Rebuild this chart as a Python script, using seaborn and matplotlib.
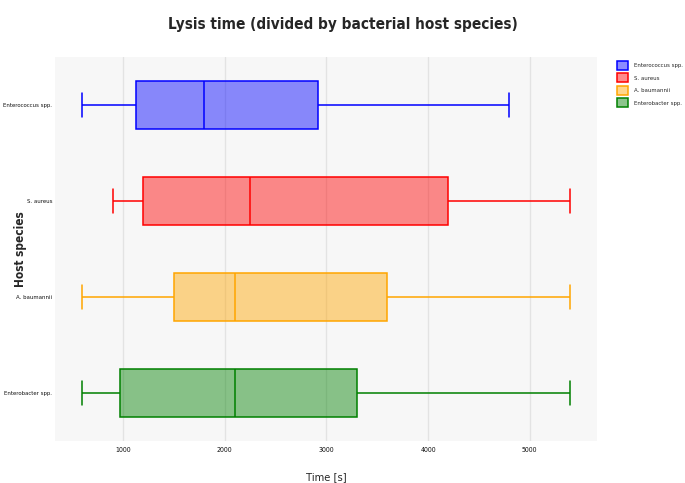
import numpy as np
import pandas as pd
import seaborn as sns
import matplotlib
matplotlib.use("Agg")
import matplotlib.pyplot as plt
from matplotlib.colors import to_rgba
from matplotlib.patches import Patch

# five-number summaries (min, q1, median, q3, max)
species = ["Enterococcus spp.", "S. aureus", "A. baumannii", "Enterobacter spp."]
enterococcus = [600, 1125, 1800, 2920, 4800]
s_aureus = [900, 1200, 2250, 4200, 5400]
a_baumannii = [600, 1500, 2100, 3600, 5400]
enterobacter = [600, 975, 2100, 3300, 5400]
colors = ["blue", "red", "orange", "green"]
x_ticks = [1000, 2000, 3000, 4000, 5000]

values = [enterococcus, s_aureus, a_baumannii, enterobacter]
df = pd.DataFrame({
    "species": np.repeat(species, 5),
    "time": np.concatenate(values),
})

sns.set_style("white")
plt.rcParams["font.family"] = ["DejaVu Sans"]
plt.rcParams["font.stretch"] = "condensed"

fig, ax = plt.subplots(figsize=(6.85, 4.83), dpi=100)
fig.subplots_adjust(left=0.080, right=0.872, top=0.882, bottom=0.087)

sns.boxplot(data=df, x="time", y="species", hue="species", order=species,
            hue_order=species, palette=colors, saturation=1, whis=(0, 100),
            width=0.5, linewidth=1.1, legend=False, ax=ax)

# per species edge / fill colours
for cont, c in zip(ax.containers, colors):
    for b in cont.boxes:
        b.set_facecolor(to_rgba(c, 0.45))
        b.set_edgecolor(c)
    for l in list(cont.whiskers) + list(cont.caps) + list(cont.medians):
        l.set_color(c)

ax.set_facecolor("#f7f7f7")
ax.set_xlim(330, 5665)
ax.set_ylim(3.5, -0.5)
ax.set_xticks(x_ticks)
ax.set_xticklabels([str(t) for t in x_ticks])
ax.grid(axis="x", color="#e3e3e3", linewidth=1)
ax.set_axisbelow(True)
for s in ax.spines.values():
    s.set_visible(False)
ax.tick_params(axis="x", length=0, labelsize=5, colors="#111111", pad=4)
ax.tick_params(axis="y", length=0, labelsize=4.3, colors="#111111", pad=2)

ax.set_xlabel("Time [s]", fontsize=8, labelpad=14)
ax.set_ylabel("Host species", fontsize=8.5, fontweight="bold")
ax.yaxis.set_label_coords(-0.052, 0.5)
fig.suptitle("Lysis time (divided by bacterial host species)", fontsize=11,
             fontweight="bold", y=0.965)

handles = [Patch(facecolor=to_rgba(c, 0.45), edgecolor=c, linewidth=1.1, label=s)
           for s, c in zip(species, colors)]
fig.legend(handles=handles, loc="upper left", bbox_to_anchor=(0.893, 0.885),
           frameon=False, fontsize=4.3, handlelength=1.9, handleheight=1.9,
           labelspacing=0.6, handletextpad=1.0)

fig.savefig("out.png", dpi=100, facecolor="white")
